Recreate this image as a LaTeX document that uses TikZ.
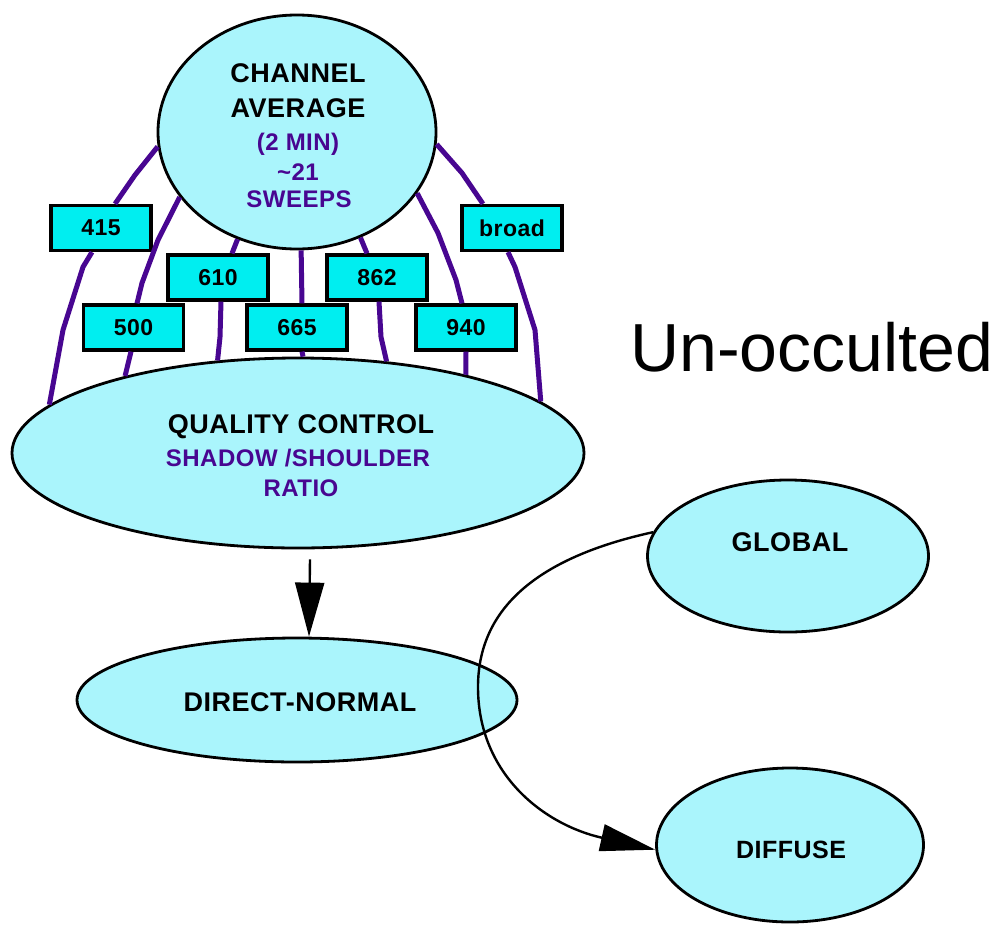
\documentclass[tikz,border=0pt]{standalone}
\usepackage{fontspec}
\setmainfont{Liberation Sans}
\newfontfamily\labelface[LetterSpace=2]{Liberation Sans}
\usetikzlibrary{shapes.geometric,arrows.meta}

\definecolor{bubblefill}{RGB}{170,245,252}
\definecolor{chipfill}{RGB}{0,238,240}
\definecolor{bandcolor}{RGB}{72,6,145}

\tikzset{
  bubble/.style={ellipse, draw=black, line width=2.8pt, fill=bubblefill, inner sep=0pt},
  chip/.style={rectangle, draw=black, line width=3.2pt, fill=chipfill,
    minimum width=100pt, minimum height=45pt, inner sep=0pt,
    font=\labelface\bfseries\fontsize{23}{27}\selectfont},
  head/.style={font=\labelface\bfseries\fontsize{27}{32}\selectfont, anchor=base, text=black, inner sep=0pt},
  note/.style={font=\labelface\bfseries\fontsize{24}{28}\selectfont, anchor=base, text=bandcolor, inner sep=0pt},
  band/.style={draw=bandcolor, line width=5pt, line join=round},
  flow/.style={draw=black, line width=2.4pt},
}

\begin{document}
\begin{tikzpicture}[x=1pt,y=-1pt]
\useasboundingbox (0,0) rectangle (1001,924);

% ellipses
\node[bubble, minimum width=278pt, minimum height=234pt] (ca) at (297,132) {};
\node[bubble, minimum width=572pt, minimum height=190pt] (qc) at (298,453) {};
\node[bubble, minimum width=440pt, minimum height=124pt] (dn) at (297,700) {};
\node[bubble, minimum width=281pt, minimum height=152pt] (gl) at (788,556) {};
\node[bubble, minimum width=267pt, minimum height=154pt] (df) at (790,845) {};

% channel boxes
\node[chip] (b415)   at (101,228)     {415};
\node[chip] (b500)   at (133.5,327.5) {500};
\node[chip] (b610)   at (218,277.5)   {610};
\node[chip] (b665)   at (297,327.5)   {665};
\node[chip] (b862)   at (377,277.5)   {862};
\node[chip] (b940)   at (466,327.5)   {940};
\node[chip] (bbroad) at (512,228)     {broad};

% channel links: average -> box -> quality control
\draw[band] (ca.186) -- (135,175) -- ([xshift=14pt]b415.north);
\draw[band] ([xshift=-9pt]b415.south) -- (83,267) -- (63,330) -- (qc.169);
\draw[band] (ca.209) -- (158,240) -- (142,283) -- ([xshift=3.5pt]b500.north);
\draw[band] ([xshift=-2.5pt]b500.south) -- (qc.156);
\draw[band] (ca.241) -- ([xshift=14pt]b610.north);
\draw[band] ([xshift=3pt]b610.south) -- (220,337) -- (qc.131);
\draw[band] (ca.272) -- ([xshift=5pt]b665.north);
\draw[band] ([xshift=5pt]b665.south) -- (qc.87.5);
\draw[band] (ca.301) -- ([xshift=-10pt]b862.north);
\draw[band] ([xshift=2pt]b862.south) -- (381,337) -- (qc.46);
\draw[band] (ca.333) -- (438,233) -- (456,280) -- ([xshift=-4pt]b940.north);
\draw[band] (b940.south) -- (qc.25);
\draw[band] (ca.355) -- (462,173) -- ([xshift=-29pt]bbroad.north);
\draw[band] ([xshift=-4pt]bbroad.south) -- (515,267) -- (535,330) -- (qc.12);

% texts
\node[head] (caA) at (298,82)  {CHANNEL};
\node[head] (caB) at (298,117) {AVERAGE};
\node[note] (caC) at (298,150) {(2 MIN)};
\node[note] (caD) at (298,180) {\textasciitilde21};
\node[note] (caE) at (299,207) {SWEEPS};
\node[head] (qcA) at (301,433) {QUALITY CONTROL};
\node[note] (qcB) at (298,466) {SHADOW /SHOULDER};
\node[note] (qcC) at (301,496) {RATIO};
\node[head] (dnA) at (300,711) {DIRECT-NORMAL};
\node[head] (glA) at (790,551) {GLOBAL};
\node[head, font=\labelface\bfseries\fontsize{25}{30}\selectfont] (dfA) at (791,858) {DIFFUSE};
\node[anchor=base west, inner sep=0pt, font=\fontsize{68}{80}\selectfont] (tag) at (630,371) {Un-occulted};

% flow arrows
\draw[flow, -{Triangle[length=54pt,width=29pt]}]
  ([xshift=12pt,yshift=-10pt]qc.south) -- ([xshift=12pt]dn.north);
\draw[flow, -{Triangle[length=55pt,width=27pt]}]
  (gl.170) .. controls (535,558) and (478,610) .. (478,687)
  .. controls (478,775) and (545,825) .. (df.182);
\end{tikzpicture}
\end{document}
